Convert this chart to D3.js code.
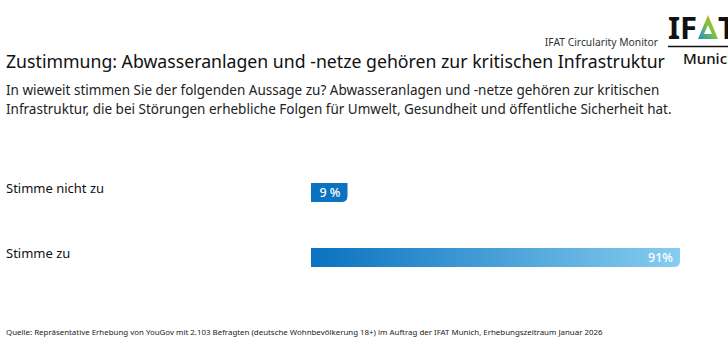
<!DOCTYPE html>
<html>
<head>
<meta charset="utf-8">
<script src="https://cdn.jsdelivr.net/npm/d3@7"></script>
<style>
  body { margin: 0; background: #fff; }
  text { font-family: "Noto Sans", sans-serif; }
</style>
</head>
<body>
<div id="chart"></div>
<script>
// answers and shares (in %)
var categories = ["Stimme nicht zu", "Stimme zu"];
var values = [9, 91];
var valueLabels = ["9 %", "91%"];

var title = "Zustimmung: Abwasseranlagen und -netze gehören zur kritischen Infrastruktur";
var subtitle = [
    "In wieweit stimmen Sie der folgenden Aussage zu? Abwasseranlagen und -netze gehören zur kritischen",
    "Infrastruktur, die bei Störungen erhebliche Folgen für Umwelt, Gesundheit und öffentliche Sicherheit hat."
];
var source = "Quelle: Repräsentative Erhebung von YouGov mit 2.103 Befragten (deutsche Wohnbevölkerung 18+) im Auftrag der IFAT Munich, Erhebungszeitraum Januar 2026";

var width = 728, height = 364;

var svg = d3.select("#chart").append("svg")
    .attr("width", width)
    .attr("height", height);

var defs = svg.append("defs");

// header
svg.append("text")
    .attr("x", 658).attr("y", 46)
    .style("text-anchor", "end")
    .style("font-size", "10.3px")
    .style("fill", "#333")
    .text("IFAT Circularity Monitor");

// logo (cut at the right edge like the original)
defs.append("clipPath").attr("id", "logoClip")
    .append("rect").attr("x", 0).attr("y", 0).attr("width", 60).attr("height", 70);
var lg = defs.append("linearGradient").attr("id", "logoGrad")
    .attr("x1", "0%").attr("y1", "100%").attr("x2", "100%").attr("y2", "0%");
lg.append("stop").attr("offset", "0%").attr("stop-color", "#1a8fd6");
lg.append("stop").attr("offset", "50%").attr("stop-color", "#7cc242");
lg.append("stop").attr("offset", "100%").attr("stop-color", "#f3a11c");

var logo = svg.append("g")
    .attr("transform", "translate(668,0)")
    .attr("clip-path", "url(#logoClip)");
logo.append("text")
    .attr("x", 0).attr("y", 39)
    .style("font-size", "31px").style("font-weight", "bold")
    .style("fill", "#111")
    .text("IF");
logo.append("path")
    .attr("d", "M30,39 L40,15 L50,39 Z M36,34 L44,34 L40,25 Z")
    .attr("fill-rule", "evenodd")
    .style("fill", "url(#logoGrad)");
logo.append("text")
    .attr("x", 50).attr("y", 39)
    .style("font-size", "31px").style("font-weight", "bold")
    .style("fill", "#111")
    .text("T");
logo.append("line")
    .attr("x1", 0).attr("x2", 60).attr("y1", 46.5).attr("y2", 46.5)
    .style("stroke", "#111").style("stroke-width", 1.5);
logo.append("text")
    .attr("x", 15).attr("y", 64)
    .style("font-size", "15px").style("font-weight", "500")
    .style("fill", "#111")
    .text("Munich");

// title and question
svg.append("text")
    .attr("x", 6).attr("y", 68)
    .style("font-size", "17.7px")
    .style("fill", "#111")
    .text(title);

svg.selectAll(".sub")
    .data(subtitle)
    .enter().append("text")
    .attr("class", "sub")
    .attr("x", 6)
    .attr("y", function(d, i) { return 95 + i * 18.5; })
    .style("font-size", "13.5px")
    .style("fill", "#222")
    .text(function(d) { return d; });

// bars
var x = d3.scaleLinear().domain([0, 100]).range([311, 716.5]);
var y = d3.scaleBand().domain(categories)
    .range([150.5, 299.5])
    .paddingInner(46 / 65)
    .paddingOuter(0.5);

var bg = defs.append("linearGradient").attr("id", "barGrad")
    .attr("gradientUnits", "userSpaceOnUse")
    .attr("x1", x(0)).attr("x2", x(91)).attr("y1", 0).attr("y2", 0);
bg.append("stop").attr("offset", "0%").attr("stop-color", "#0a72c0");
bg.append("stop").attr("offset", "100%").attr("stop-color", "#86cdf0");

// only the lower right corner is rounded
function barPath(x0, x1, y0, h) {
    var r = 6;
    return "M" + x0 + "," + y0 +
        "L" + x1 + "," + y0 +
        "L" + x1 + "," + (y0 + h - r) +
        "Q" + x1 + "," + (y0 + h) + " " + (x1 - r) + "," + (y0 + h) +
        "L" + x0 + "," + (y0 + h) + "Z";
}

svg.selectAll(".cat")
    .data(categories)
    .enter().append("text")
    .attr("class", "cat")
    .attr("x", 6)
    .attr("y", function(d) { return y(d) + y.bandwidth() / 2; })
    .style("font-size", "13px")
    .style("fill", "#111")
    .text(function(d) { return d; });

svg.selectAll(".bar")
    .data(values)
    .enter().append("path")
    .attr("class", "bar")
    .attr("d", function(d, i) { return barPath(x(0), x(d), y(categories[i]), y.bandwidth()); })
    .style("fill", function(d, i) { return i === 0 ? "#0a72c0" : "url(#barGrad)"; });

svg.selectAll(".val")
    .data(values)
    .enter().append("text")
    .attr("class", "val")
    .attr("x", function(d) { return x(d) - 7; })
    .attr("y", function(d, i) { return y(categories[i]) + y.bandwidth() / 2; })
    .attr("dy", ".35em")
    .style("text-anchor", "end")
    .style("font-size", "12.5px")
    .style("font-weight", "500")
    .style("fill", "#fff")
    .text(function(d, i) { return valueLabels[i]; });

// source
svg.append("text")
    .attr("x", 6).attr("y", 335)
    .style("font-size", "7.9px")
    .style("fill", "#222")
    .text(source);
</script>
</body>
</html>
